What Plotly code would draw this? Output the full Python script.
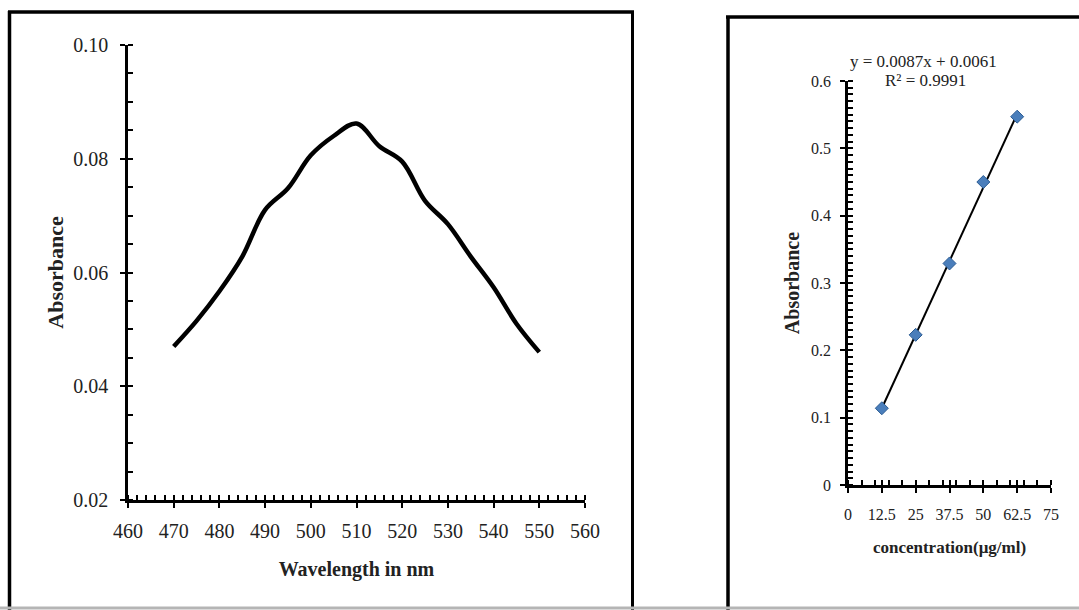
import numpy as np
import plotly.graph_objects as go

# ---------------- data ----------------
wavelength = [470, 475, 480, 485, 490, 495, 500, 505, 510, 515, 520, 525, 530, 535, 540, 545, 550]
absorbance_spec = [0.047, 0.0515, 0.0567, 0.0628, 0.0710, 0.0748, 0.0806, 0.0840, 0.0862,
                   0.0822, 0.0795, 0.0726, 0.0685, 0.0628, 0.0574, 0.0510, 0.0460]

concentration = [12.5, 25, 37.5, 50, 62.5]
absorbance_cal = [0.114, 0.223, 0.329, 0.450, 0.547]

x1_ticks = [460, 470, 480, 490, 500, 510, 520, 530, 540, 550, 560]
y1_ticks = [0.02, 0.04, 0.06, 0.08, 0.10]
x2_ticks = [0, 12.5, 25, 37.5, 50, 62.5, 75]
y2_ticks = [0, 0.1, 0.2, 0.3, 0.4, 0.5, 0.6]

eq_text = "y = 0.0087x + 0.0061"
r2_text = "R² = 0.9991"

# trendline from least squares fit of the calibration data
slope, intercept = np.polyfit(concentration, absorbance_cal, 1)
trend_x = [concentration[0], concentration[-1]]
trend_y = [slope * v + intercept for v in trend_x]

W, H = 1079, 610
def fx(p):
    return p / W
def fy(p):
    return 1 - p / H

FONT = "Liberation Serif"
TXT = "#222222"

fig = go.Figure()

fig.add_trace(go.Scatter(
    x=wavelength, y=absorbance_spec, mode="lines",
    line=dict(color="black", width=4.5, shape="spline", smoothing=1.0),
    xaxis="x", yaxis="y", showlegend=False, hoverinfo="x+y"))

fig.add_trace(go.Scatter(
    x=trend_x, y=trend_y, mode="lines",
    line=dict(color="black", width=2),
    xaxis="x2", yaxis="y2", showlegend=False))

fig.add_trace(go.Scatter(
    x=concentration, y=absorbance_cal, mode="markers",
    marker=dict(symbol="diamond", size=10, color="#4A7EBB",
                line=dict(color="#2B5C93", width=1)),
    xaxis="x2", yaxis="y2", showlegend=False))

common = dict(showgrid=False, zeroline=False, showline=True, linecolor="black",
              ticks="outside", tickcolor="black", tickwidth=2, ticklen=5, automargin=False)
overlay = dict(ticks="inside", ticklen=5, tickwidth=2, tickcolor="black", automargin=False,
               showticklabels=False, showgrid=False, zeroline=False, showline=False)

left_x_dom = [fx(128), fx(585)]
left_y_dom = [fy(500), fy(45)]
right_x_dom = [fx(848), fx(1051)]
right_y_dom = [fy(485), fy(81)]

fig.update_layout(
    width=W, height=H,
    margin=dict(l=0, r=0, t=0, b=0, autoexpand=False),
    paper_bgcolor="white", plot_bgcolor="white",
    font=dict(family=FONT, color=TXT),
    xaxis=dict(**common, domain=left_x_dom, anchor="y", range=[460, 560],
               tickvals=x1_ticks, linewidth=2.5,
               tickfont=dict(size=20, color=TXT), ticklabelstandoff=6,
               minor=dict(dtick=2, ticks="inside", ticklen=5, tickwidth=1.5, tickcolor="black"),
               title=dict(text="<b>Wavelength in nm</b>", font=dict(size=20, color=TXT), standoff=22)),
    yaxis=dict(**common, domain=left_y_dom, anchor="x", range=[0.02, 0.10],
               tickvals=y1_ticks, tickformat=".2f", linewidth=2.5,
               tickfont=dict(size=20, color=TXT), ticklabelstandoff=8,
               minor=dict(dtick=0.005, ticks="inside", ticklen=5, tickwidth=1.5, tickcolor="black"),
               title=dict(text="<b>Absorbance</b>", font=dict(size=22, color=TXT), standoff=4)),
    xaxis3=dict(**overlay, overlaying="x", anchor="y", range=[460, 560], tickvals=x1_ticks),
    yaxis3=dict(**overlay, overlaying="y", anchor="x", range=[0.02, 0.10], tickvals=y1_ticks),
    xaxis2=dict(**common, domain=right_x_dom, anchor="y2", range=[0, 75],
                tickvals=x2_ticks, linewidth=2.5,
                tickfont=dict(size=16, color=TXT), ticklabelstandoff=8,
                minor=dict(tick0=0, dtick=5, ticks="inside", ticklen=5, tickwidth=1.5, tickcolor="black"),
                title=dict(text="<b>concentration(μg/ml)</b>", font=dict(size=17, color=TXT), standoff=20)),
    yaxis2=dict(**common, domain=right_y_dom, anchor="x2", range=[0, 0.6],
                tickvals=y2_ticks, linewidth=2.5,
                tickfont=dict(size=16, color=TXT), ticklabelstandoff=6,
                minor=dict(dtick=0.01, ticks="inside", ticklen=5, tickwidth=1.5, tickcolor="black"),
                title=dict(text="<b>Absorbance</b>", font=dict(size=20, color=TXT), standoff=7)),
    xaxis4=dict(**overlay, overlaying="x2", anchor="y2", range=[0, 75], tickvals=x2_ticks),
    yaxis4=dict(**overlay, overlaying="y2", anchor="x2", range=[0, 0.6], tickvals=y2_ticks),
)

# invisible helper traces so the overlay axes get drawn
fig.add_trace(go.Scatter(x=[wavelength[0]], y=[absorbance_spec[0]], mode="markers",
                         marker=dict(opacity=0), xaxis="x3", yaxis="y3",
                         showlegend=False, hoverinfo="skip"))
fig.add_trace(go.Scatter(x=[concentration[0]], y=[absorbance_cal[0]], mode="markers",
                         marker=dict(opacity=0), xaxis="x4", yaxis="y4",
                         showlegend=False, hoverinfo="skip"))

# equation annotation
fig.add_annotation(x=fx(923), y=fy(62), xref="paper", yref="paper",
                   xanchor="center", yanchor="middle",
                   text=eq_text, showarrow=False, font=dict(size=17, color=TXT))
fig.add_annotation(x=fx(925), y=fy(80), xref="paper", yref="paper",
                   xanchor="center", yanchor="middle",
                   text=r2_text, showarrow=False, font=dict(size=17, color=TXT))

# panel frames
fig.add_shape(type="line", xref="paper", yref="paper", x0=fx(8), x1=fx(634), y0=fy(12), y1=fy(12),
              line=dict(color="black", width=3.5))
fig.add_shape(type="line", xref="paper", yref="paper", x0=fx(9.5), x1=fx(9.5), y0=fy(11), y1=fy(610),
              line=dict(color="black", width=3.5))
fig.add_shape(type="line", xref="paper", yref="paper", x0=fx(632.5), x1=fx(632.5), y0=fy(11), y1=fy(610),
              line=dict(color="black", width=3))
fig.add_shape(type="line", xref="paper", yref="paper", x0=fx(726), x1=fx(1079), y0=fy(17), y1=fy(17),
              line=dict(color="black", width=3.5))
fig.add_shape(type="line", xref="paper", yref="paper", x0=fx(728), x1=fx(728), y0=fy(16), y1=fy(610),
              line=dict(color="black", width=3.5))
fig.add_shape(type="line", xref="paper", yref="paper", x0=0, x1=1, y0=fy(608), y1=fy(608),
              line=dict(color="#b5b5b5", width=3))

fig.write_html("out.html")
